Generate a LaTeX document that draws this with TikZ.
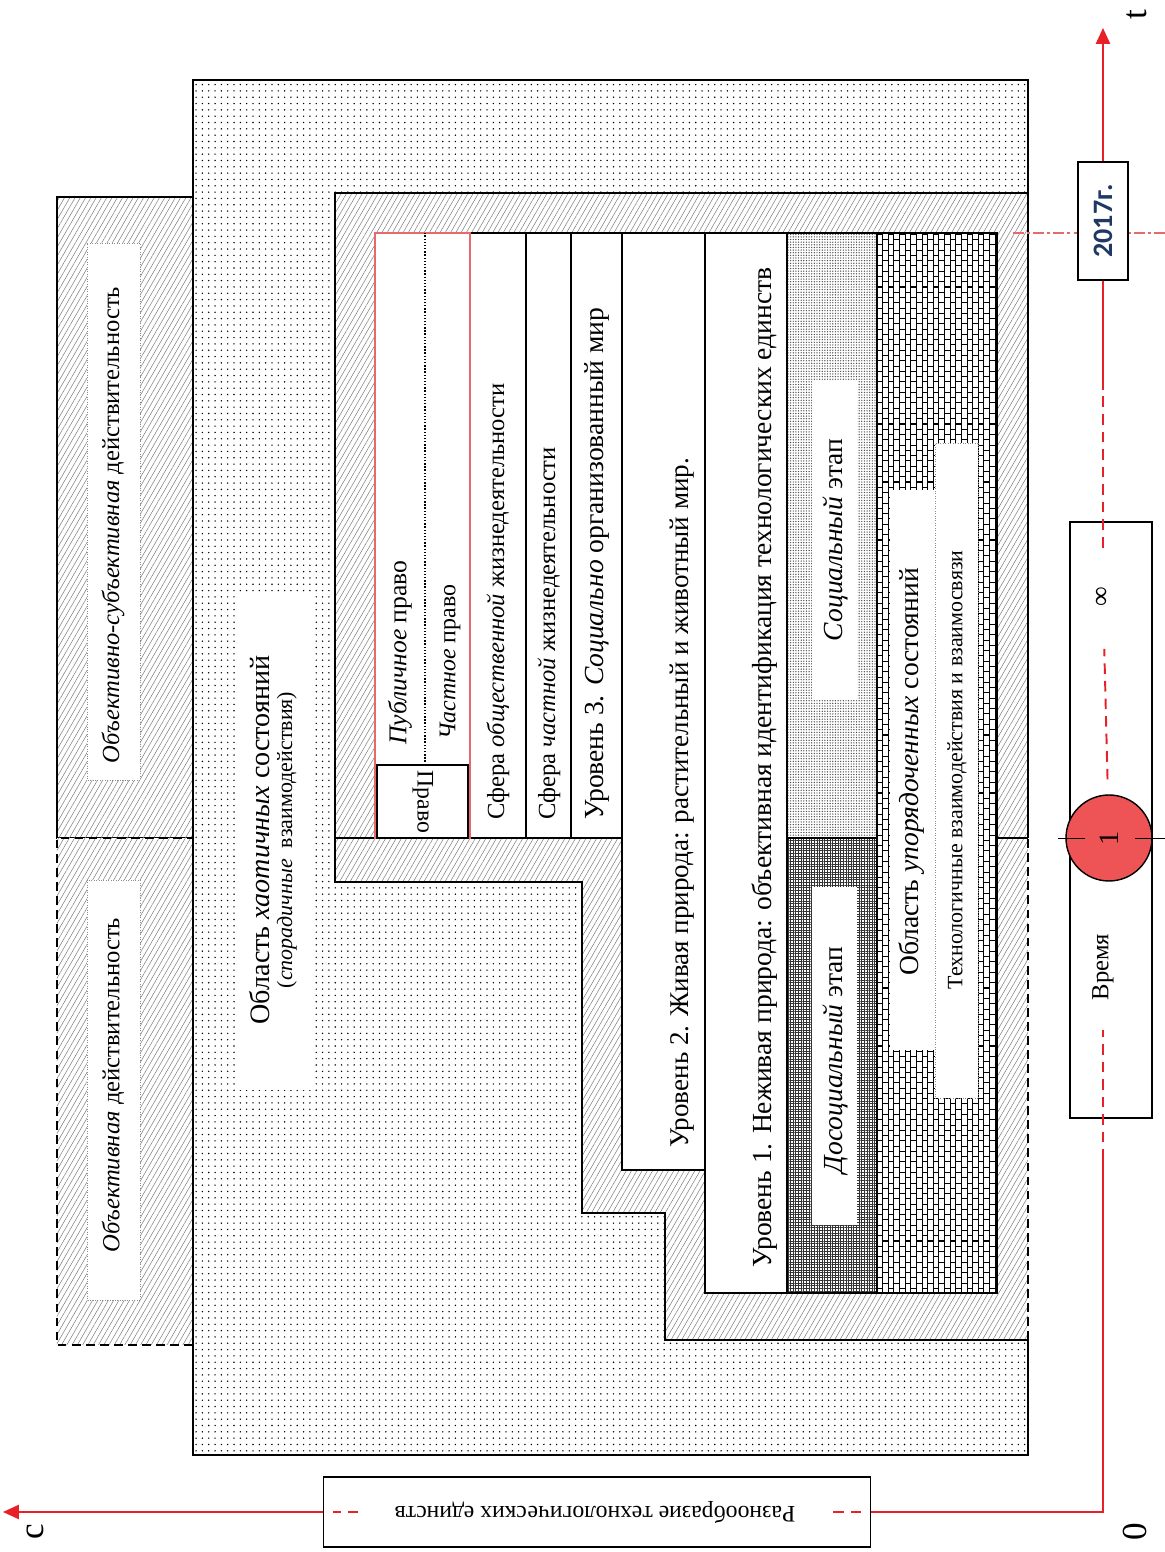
\documentclass[tikz,border=0pt]{standalone}
\usepackage{fontspec}
\setmainfont{Liberation Serif}
\setsansfont{Carlito}
\usepackage{tikz}
\usetikzlibrary{patterns,patterns.meta,arrows.meta}

\definecolor{axisred}{RGB}{232,32,40}
\definecolor{ballred}{RGB}{238,84,86}
\definecolor{lawred}{RGB}{230,105,110}
\definecolor{yearblue}{RGB}{32,56,100}

% upright bricks
\pgfdeclarepatternformonly{vbricks}{\pgfqpoint{-0.5pt}{-0.5pt}}{\pgfqpoint{6.9pt}{6.5pt}}{\pgfqpoint{6.4pt}{6pt}}{
  \pgfsetlinewidth{0.6pt}
  \pgfpathmoveto{\pgfqpoint{0pt}{0pt}}\pgfpathlineto{\pgfqpoint{0pt}{6pt}}
  \pgfpathmoveto{\pgfqpoint{3.2pt}{0pt}}\pgfpathlineto{\pgfqpoint{3.2pt}{6pt}}
  \pgfpathmoveto{\pgfqpoint{0pt}{0pt}}\pgfpathlineto{\pgfqpoint{3.2pt}{0pt}}
  \pgfpathmoveto{\pgfqpoint{3.2pt}{3pt}}\pgfpathlineto{\pgfqpoint{6.4pt}{3pt}}
  \pgfusepath{stroke}}

\tikzset{
  zone/.style={line width=0.9pt},
  dotzone/.style={preaction={fill=white}, pattern={Dots[radius=0.45pt,distance=3.6pt]}, pattern color=black},
  hatchzone/.style={preaction={fill=white}, pattern={Lines[angle=60,distance=2.6pt,line width=0.3pt]}, pattern color=black!50},
  socfill/.style={preaction={fill=white}, pattern={Dots[radius=0.4pt,distance=1.5pt]}, pattern color=black!70},
  dosocfill/.style={preaction={fill=white}, pattern={Hatch[distance=1.5pt,line width=0.55pt]}, pattern color=black!80},
  brickfill/.style={preaction={fill=white}, pattern=vbricks, pattern color=black},
  band/.style={draw, line width=0.9pt, fill=white},
  labelbox/.style={draw=black!45, densely dotted, fill=white},
  txt/.style={font=\fontsize{15.7}{19}\selectfont, inner sep=1pt},
  midtxt/.style={font=\fontsize{14}{17}\selectfont, inner sep=1pt},
  smalltxt/.style={font=\fontsize{12.5}{15}\selectfont, inner sep=1pt},
  axline/.style={axisred, line width=1.1pt},
  axdash/.style={axline, dash pattern=on 6pt off 4pt},
  axisbox/.style={draw, line width=0.9pt, fill=white},
  ball/.style={circle, draw, line width=0.8pt, fill=ballred, minimum size=1.72cm, inner sep=0pt, font=\fontsize{16}{19}\selectfont},
}

\begin{document}
\begin{tikzpicture}[x=0.02cm, y=0.02cm, rotate=90, transform shape]
    \useasboundingbox (0,0) rectangle (1552,1165);

    % chaotic area
    \fill[dotzone] (97,137) rectangle (1472,972);
    \fill[white] (462,853) rectangle (957,930);
    \node[align=center, inner sep=1pt] (chaos) at (712,892)
        {{\fontsize{16}{19}\selectfont Область \textit{хаотичных} состояний}\\[1pt]
         {\fontsize{12.5}{15}\selectfont (\textit{спорадичные}\ \ взаимодействия)}};

    % left strip
    \draw[zone, hatchzone] (714,972) rectangle (1355,1108);
    \draw[zone, hatchzone, dash pattern=on 5pt off 3pt] (207,972) rectangle (714,1108);
    \draw[labelbox] (772,1025) rectangle (1309,1078);
    \draw[labelbox] (252,1025) rectangle (672,1078);
    \node[midtxt] (objsubj) at (1027,1052) {\textit{Объективно-субъективная} действительность};
    \node[midtxt] (obj) at (467,1052) {\textit{Объективная} действительность};

    % stair region
    \fill[hatchzone] (670,830) -- (1359,830) -- (1359,137) -- (212,137) -- (212,500)
        -- (339,500) -- (339,583) -- (670,583) -- cycle;
    \draw[zone] (714,137) -- (1359,137) -- (1359,830) -- (670,830) -- (670,583)
        -- (339,583) -- (339,500) -- (212,500) -- (212,137);
    \draw[zone, dash pattern=on 5pt off 3pt] (212,137) -- (714,137);
    \draw[zone] (1359,137) -- (1472,137) -- (1472,972) -- (97,972) -- (97,137) -- (212,137);
    \draw[zone] (714,790) -- (714,830);
    \draw[zone] (714,137) -- (714,168);

    % bands
    \draw[band] (714,639) rectangle (1319,695);
    \draw[band] (714,594) rectangle (1319,639);
    \draw[band] (714,543) rectangle (1319,594);
    \draw[band] (382,460) rectangle (1319,543);
    \draw[band] (259,378) rectangle (1319,460);
    \draw[band, socfill] (714,288) rectangle (1319,378);
    \draw[band, dosocfill] (259,288) rectangle (714,378);
    \draw[band, brickfill] (259,168) rectangle (1319,288);

    % law
    \draw[band, draw=lawred, line width=1.1pt] (714,695) rectangle (1319,790);
    \draw[densely dotted, line width=0.8pt] (787,740) -- (1319,740);
    \draw[zone] (714,697) rectangle (787,788);
    \node[midtxt, font=\fontsize{13.5}{16}\selectfont, rotate=180] (pravo) at (750,742) {Право};
    \node[midtxt, font=\fontsize{14.6}{17}\selectfont, anchor=west] (pub) at (805,765) {\textit{Публичное} право};
    \node[midtxt, font=\fontsize{13.6}{17}\selectfont, anchor=west] (chast) at (810,715) {\textit{Частное} право};

    \node[midtxt, anchor=west] (sfobsh) at (730,667) {Сфера \textit{общественной} жизнедеятельности};
    \node[midtxt, anchor=west] (sfchast) at (730,616) {Сфера \textit{частной} жизнедеятельности};
    \node[txt, anchor=west] (ur3) at (730,568) {Уровень 3. \textit{Социально} организованный мир};
    \node[txt, font=\fontsize{15.4}{19}\selectfont, anchor=west] (ur2) at (402,483) {Уровень 2. Живая природа: растительный и животный мир.};
    \node[txt, anchor=west] (ur1) at (282,400) {Уровень 1. Неживая природа: объективная идентификация технологических единств};

    \fill[white] (852,308) rectangle (1172,353);
    \node[txt] (soc) at (1012,330) {\textit{Социальный} этап};
    \fill[white] (327,308) rectangle (665,353);
    \node[txt] (dosoc) at (492,330) {\textit{Досоциальный} этап};

    \fill[white] (502,230) rectangle (1062,275);
    \draw[labelbox] (454,187) rectangle (1109,230);
    \node[txt] (order) at (780,253) {Область \textit{упорядоченных} состояний};
    \node[smalltxt] (tech) at (782,208) {Технологичные взаимодействия и взаимосвязи};

    % axes
    \coordinate (O) at (40,62);
    \coordinate (tend) at (1524,62);
    \coordinate (cend) at (40,1162);
    \coordinate (d1) at (392,62);
    \coordinate (d2) at (1162,62);

    \draw[lawred, line width=0.8pt, dash pattern=on 6pt off 2pt on 1.5pt off 2pt] (1319,0) -- (1319,155);
    \node[axisbox, minimum width=2.36cm, minimum height=1cm, text=yearblue,
          font=\sffamily\bfseries\fontsize{16}{19}\selectfont] (year) at (1331,62) {2017г.};
    \node[axisbox, minimum width=11.92cm, minimum height=1.64cm] (tbox) at (732,54) {};
    \node[txt] (inf) at (955,62) {∞};
    \node[txt, font=\fontsize{14}{17}\selectfont] (vremya) at (585,62) {Время};
    \node[ball] (one) at (714,56) {1};
    \draw (714,0) -- (714,30);
    \draw (714,80) -- (714,107);

    \node[axisbox, minimum width=1.4cm, minimum height=10.94cm] (rbox) at (40,568) {};
    \node[font=\fontsize{13.5}{16}\selectfont, rotate=90] (rtext) at (40,570) {Разнообразие технологических единств};

    \draw[axline] (rbox) -- (O) -- (d1);
    \draw[axdash, shorten >=0.55cm] (d1) -- (vremya);
    \draw[axdash, shorten <=0.3cm, shorten >=0.8cm] (one) -- (inf);
    \draw[axdash, shorten <=0.75cm] (inf) -- (d2);
    \draw[axline] (d2) -- (year);
    \draw[axline, -{Triangle[length=9pt,width=8pt]}] (year) -- (tend);
    \draw[axdash, shorten <=0.2cm, shorten >=0.6cm] (rbox.south) -- (rtext);
    \draw[axdash, shorten <=0.6cm, shorten >=0.2cm] (rtext) -- (rbox.north);
    \draw[axline, -{Triangle[length=9pt,width=8pt]}] (rbox) -- (cend);

    \node[font=\fontsize{20}{22}\selectfont] (tlab) at (1537,28) {t};
    \node[font=\fontsize{20}{22}\selectfont] (olab) at (20,30) {0};
    \node[font=\fontsize{20}{22}\selectfont] (clab) at (20,1130) {c};
\end{tikzpicture}
\end{document}
